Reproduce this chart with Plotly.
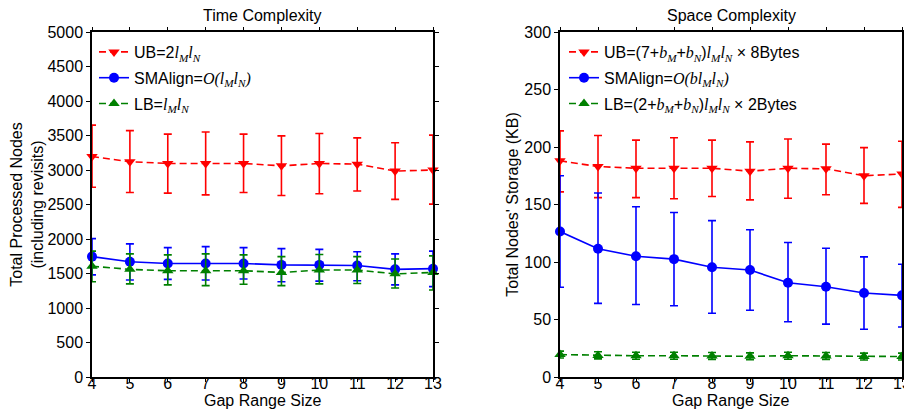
import plotly.graph_objects as go

# Gap range sizes (shared x values)
gap_sizes = [4, 5, 6, 7, 8, 9, 10, 11, 12, 13]

# Time complexity: total processed nodes (mean, upper, lower of error bar)
time_ub = [3195, 3120, 3095, 3095, 3095, 3060, 3095, 3085, 2985, 3000]
time_ub_hi = [3650, 3570, 3520, 3550, 3520, 3495, 3530, 3465, 3395, 3505]
time_ub_lo = [2750, 2675, 2665, 2640, 2675, 2630, 2655, 2695, 2575, 2505]

time_sma = [1745, 1670, 1645, 1645, 1645, 1625, 1625, 1615, 1560, 1570]
time_sma_hi = [2005, 1930, 1875, 1890, 1875, 1860, 1850, 1815, 1785, 1825]
time_sma_lo = [1480, 1405, 1415, 1405, 1420, 1380, 1390, 1395, 1335, 1310]

time_lb = [1605, 1560, 1540, 1540, 1540, 1515, 1550, 1550, 1495, 1515]
time_lb_hi = [1825, 1785, 1770, 1785, 1770, 1745, 1775, 1745, 1710, 1755]
time_lb_lo = [1380, 1350, 1335, 1325, 1345, 1325, 1350, 1355, 1290, 1260]

# Space complexity: storage in KB
space_ub = [188, 183, 181.5, 181.5, 181.5, 179, 181.5, 181, 175, 176.5]
space_ub_hi = [214, 210, 206, 208, 206, 204.5, 207, 202.5, 199.5, 205]
space_ub_lo = [161, 156, 156, 155, 157, 154, 155.5, 158.5, 151, 147.5]

space_sma = [126.5, 111.5, 105, 102.5, 95.5, 93, 82, 78.5, 73, 71]
space_sma_hi = [175, 160, 148, 143, 136, 128, 117, 112, 104.5, 98]
space_sma_lo = [78, 64, 63, 62, 55.5, 58, 48, 46, 41.5, 43.5]

space_lb = [19.5, 18.8, 18.5, 18.5, 18.3, 18, 18.5, 18.3, 17.8, 17.8]
space_lb_hi = [22.5, 22, 21.5, 21.5, 21.3, 21, 21.5, 21.3, 20.8, 20.8]
space_lb_lo = [16.5, 15.8, 15.5, 15.5, 15.3, 15, 15.5, 15.3, 14.8, 14.8]

RED = "#ff0000"
BLUE = "#0000ff"
GREEN = "#008000"
FONT = "Liberation Sans, Arial, sans-serif"
FS = 16

# The page body has an 8px margin, so the figure is drawn 8px smaller
# and positions below are given in screen pixels, then converted.
FIG_W, FIG_H = 904, 411


def _px_x(px):
    return (px - 8) / FIG_W


def _px_y(px):
    return (419 - px) / FIG_H


def _math(s):
    return f'<span style="font-family:Liberation Serif"><i>{s}</i></span>'


def _sub(s):
    return f'<sub><span style="font-family:Liberation Serif"><i>{s}</i></span></sub>'


L_MN = _math("l") + _sub("M") + _math("l") + _sub("N")
B_MN = "+" + _math("b") + _sub("M") + "+" + _math("b") + _sub("N")

time_names = [
    "UB=2" + L_MN,
    "SMAlign=" + _math("O(l") + _sub("M") + _math("l") + _sub("N") + _math(")"),
    "LB=" + L_MN,
]
space_names = [
    "UB=(7" + B_MN + ")" + L_MN + " \u00d7 8Bytes",
    "SMAlign=" + _math("O(bl") + _sub("M") + _math("l") + _sub("N") + _math(")"),
    "LB=(2" + B_MN + ")" + L_MN + " \u00d7 2Bytes",
]

DASH = "7px,4px"
STYLES = [
    (RED, DASH, "triangle-down"),
    (BLUE, "solid", "circle"),
    (GREEN, DASH, "triangle-up"),
]


def _series(mean, hi, lo, name, style, axis, legend):
    color, dash, symbol = style
    return go.Scatter(
        x=gap_sizes,
        y=mean,
        name=name,
        mode="lines+markers",
        line={"color": color, "width": 1.6, "dash": dash},
        marker={"color": color, "symbol": symbol, "size": 10},
        error_y={
            "type": "data",
            "symmetric": False,
            "array": [h - m for h, m in zip(hi, mean)],
            "arrayminus": [m - l for m, l in zip(mean, lo)],
            "color": color,
            "thickness": 1.6,
            "width": 4,
        },
        xaxis="x" if axis == 1 else "x2",
        yaxis="y" if axis == 1 else "y2",
        legend=legend,
        legendgroup=f"{legend}-{name}",
        cliponaxis=False,
    )


fig = go.Figure()
time_data = [
    (time_ub, time_ub_hi, time_ub_lo),
    (time_sma, time_sma_hi, time_sma_lo),
    (time_lb, time_lb_hi, time_lb_lo),
]
space_data = [
    (space_ub, space_ub_hi, space_ub_lo),
    (space_sma, space_sma_hi, space_sma_lo),
    (space_lb, space_lb_hi, space_lb_lo),
]
for (m, h, l), name, style in zip(time_data, time_names, STYLES):
    fig.add_trace(_series(m, h, l, name, style, 1, "legend"))
for (m, h, l), name, style in zip(space_data, space_names, STYLES):
    fig.add_trace(_series(m, h, l, name, style, 2, "legend2"))

axis_common = {
    "automargin": False,
    "showline": True,
    "linecolor": "black",
    "linewidth": 1.5,
    "mirror": "ticks",
    "ticks": "outside",
    "ticklen": 4,
    "tickcolor": "black",
    "showgrid": False,
    "zeroline": False,
    "tickfont": {"size": FS, "color": "black"},
    "title_font": {"size": FS, "color": "black"},
}
x_common = dict(axis_common, range=[4, 13], dtick=1, tick0=4, ticklen=3,
                ticklabelstandoff=-12)

legend_common = {
    "yanchor": "top",
    "xanchor": "left",
    "y": _px_y(35),
    "bgcolor": "rgba(0,0,0,0)",
    "font": {"size": FS, "color": "black", "family": FONT},
    "tracegroupgap": 2,
    "itemwidth": 30,
}

y_domain = [_px_y(377), _px_y(32)]

fig.update_layout(
    width=FIG_W,
    height=FIG_H,
    margin={"l": 0, "r": 0, "t": 0, "b": 0},
    paper_bgcolor="white",
    plot_bgcolor="white",
    font={"family": FONT, "color": "black", "size": FS},
    xaxis=dict(x_common, domain=[_px_x(92), _px_x(433)], anchor="y"),
    yaxis=dict(axis_common, domain=y_domain, range=[0, 5000], dtick=500,
               anchor="x",
               title_text="Total Processed Nodes<br>(including revisits)",
               title_standoff=2),
    xaxis2=dict(x_common, domain=[_px_x(560), _px_x(902)], anchor="y2"),
    yaxis2=dict(axis_common, domain=y_domain, range=[0, 300], dtick=50,
                anchor="x2", title_text="Total Nodes' Storage (KB)",
                title_standoff=2),
    legend=dict(legend_common, x=_px_x(94)),
    legend2=dict(legend_common, x=_px_x(564)),
)

for text, cx, cy in [
    ("Time Complexity", (92 + 433) / 2, 16),
    ("Space Complexity", (560 + 902) / 2, 16),
    ("Gap Range Size", (92 + 433) / 2, 400),
    ("Gap Range Size", (560 + 902) / 2, 400),
]:
    fig.add_annotation(text=text, x=_px_x(cx), y=_px_y(cy), xref="paper",
                       yref="paper", xanchor="center", yanchor="middle",
                       showarrow=False, font={"size": FS})

fig.write_html("out.html")
